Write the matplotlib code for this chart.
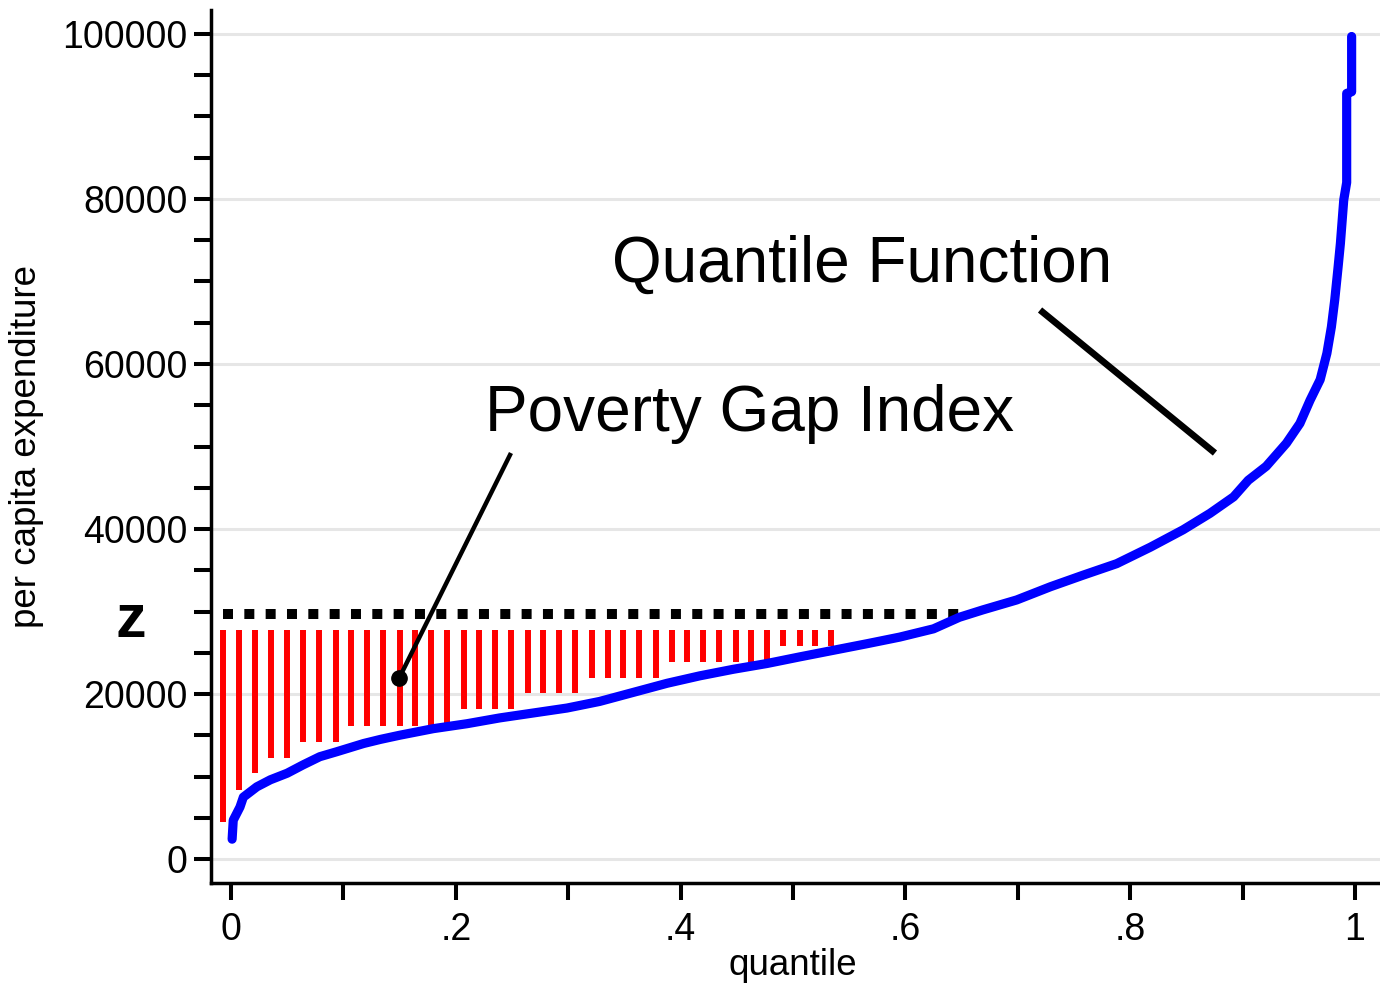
import matplotlib.pyplot as plt
import numpy as np

plt.rcParams['font.family'] = ['Liberation Sans', 'DejaVu Sans']

# quantile function of per capita expenditure
quantile = [0.001, 0.002, 0.008, 0.011, 0.023, 0.035, 0.050, 0.064, 0.079, 0.094,
            0.118, 0.133, 0.150, 0.180, 0.210, 0.239, 0.269, 0.299, 0.328, 0.358,
            0.388, 0.417, 0.447, 0.477, 0.506, 0.536, 0.566, 0.595, 0.625, 0.648,
            0.669, 0.699, 0.729, 0.758, 0.788, 0.818, 0.847, 0.871, 0.892, 0.905,
            0.921, 0.939, 0.951, 0.960, 0.969, 0.975, 0.979, 0.982, 0.985, 0.987,
            0.990, 0.9926, 0.9926, 0.997, 0.997]
expenditure = [2400, 4700, 6300, 7500, 8750, 9600, 10400, 11400, 12400, 13000,
               14000, 14500, 15000, 15800, 16400, 17100, 17700, 18300, 19100, 20200,
               21300, 22200, 23000, 23700, 24500, 25300, 26100, 26900, 27900, 29300,
               30200, 31400, 33000, 34400, 35800, 37800, 39900, 41900, 43900, 45900,
               47600, 50400, 52800, 55600, 58100, 61300, 64500, 67800, 71800, 74600,
               79900, 82000, 92800, 93000, 99700]

# poverty line and the gap spikes
z = 29700
gap_top = 27750
gap_quantile = [-0.007, 0.007, 0.021, 0.036, 0.050, 0.064, 0.078, 0.093, 0.107, 0.121,
                0.135, 0.150, 0.164, 0.178, 0.192, 0.207, 0.221, 0.235, 0.249, 0.264,
                0.278, 0.292, 0.306, 0.321, 0.335, 0.349, 0.363, 0.378, 0.392, 0.406,
                0.420, 0.434, 0.449, 0.463, 0.477, 0.491, 0.506, 0.520, 0.534]
gap_bottom = [4500, 8400, 10400, 12300, 12300, 14200, 14200, 14200,
              16150, 16150, 16150, 16150, 16150, 16150, 16150,
              18150, 18150, 18150, 18150, 20100, 20100, 20100, 20100,
              22000, 22000, 22000, 22000, 22000,
              23900, 23900, 23900, 23900, 23900, 23900, 23900,
              25850, 25850, 25850, 25850]
z_line_q = [-0.0069, 0.6478]

fig = plt.figure(figsize=(13.8, 9.83), dpi=100)
ax = fig.add_axes([211/1380, 1 - 883/983, 1 - 211/1380, (883 - 10)/983])

ax.vlines(gap_quantile, gap_bottom, gap_top, color='red', lw=4.3, zorder=2)
ax.plot(z_line_q, [z, z], color='black', lw=7.2, linestyle=(0, (1, 1.133)),
        dash_capstyle='butt', zorder=2)
ax.plot(quantile, expenditure, color='blue', lw=6.6,
        solid_capstyle='round', solid_joinstyle='round', zorder=3)

# annotations
ax.plot([0.7198, 0.8754], [66545, 49212], color='black', lw=4.8,
        solid_capstyle='butt', zorder=4)
ax.text(0.339, 69940, 'Quantile Function', fontsize=46, ha='left', va='baseline')
ax.plot([0.2482, 0.1498], [48970, 21980], color='black', lw=3.2, zorder=4)
ax.plot([0.1498], [21980], 'o', color='black', ms=11, zorder=4)
ax.text(0.226, 51880, 'Poverty Gap Index', fontsize=46, ha='left', va='baseline')
ax.text(-0.089, 26900, 'z', fontsize=44, fontweight='bold', ha='center',
        va='baseline', clip_on=False)

ax.set_xlim(-0.01779, 1.02224)
ax.set_ylim(-2909, 102909)

ax.set_xticks([0, 0.2, 0.4, 0.6, 0.8, 1])
ax.set_xticklabels(['0', '.2', '.4', '.6', '.8', '1'])
ax.set_xticks([0.1, 0.3, 0.5, 0.7, 0.9], minor=True)
ax.set_yticks(np.arange(0, 100001, 20000))
ax.set_yticklabels(['0', '20000', '40000', '60000', '80000', '100000'])
ax.set_yticks([v for v in range(5000, 100000, 5000) if v % 20000], minor=True)

ax.tick_params(which='both', direction='out', length=12, width=2.9, labelsize=27)
ax.tick_params(axis='x', pad=9)
ax.tick_params(axis='y', pad=5)

for side in ['top', 'right']:
    ax.spines[side].set_visible(False)
for side in ['left', 'bottom']:
    ax.spines[side].set_linewidth(2.5)

ax.yaxis.grid(True, which='major', color='#e6e6e6', lw=2.2)
ax.set_axisbelow(True)

ax.set_xlabel('quantile', fontsize=26.5)
ax.set_ylabel('per capita expenditure', fontsize=26.5)
ax.xaxis.set_label_coords(0.498, -0.074)
ax.yaxis.set_label_coords(-0.143, 0.5)

plt.savefig('out.png', dpi=100)
